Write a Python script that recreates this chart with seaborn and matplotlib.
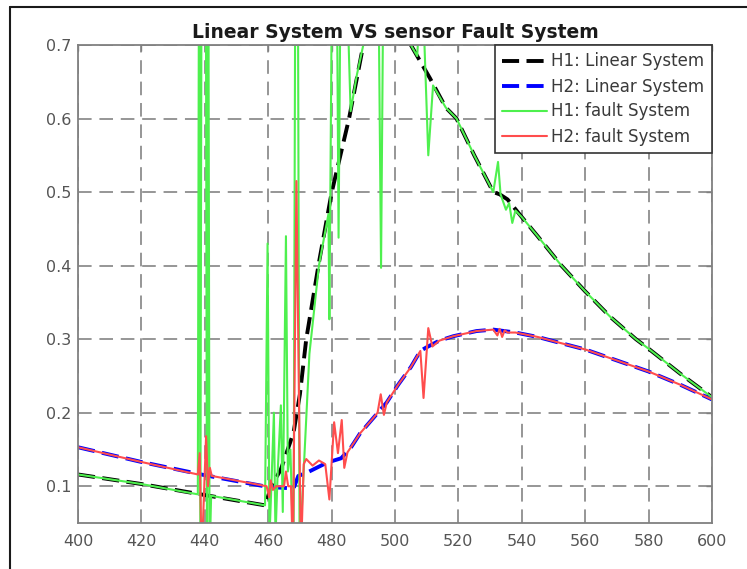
import matplotlib
matplotlib.use("Agg")
import matplotlib.pyplot as plt
from matplotlib.lines import Line2D
import pandas as pd
import seaborn as sns

# ---- data (wavelength vs. response) ----
h1_lin_x = [400, 420, 440, 459, 461, 464, 468, 470, 472, 476, 480, 485.5, 490, 493, 497, 501,
            505, 511, 516, 519.4, 525, 531, 533, 535.5, 540, 545, 552.5, 560, 568, 576, 580, 590, 600]
h1_lin_y = [0.116, 0.103, 0.088, 0.074, 0.100, 0.123, 0.173, 0.225, 0.300, 0.404, 0.499, 0.600,
            0.700, 0.750, 0.780, 0.755, 0.700, 0.655, 0.615, 0.600, 0.550, 0.500, 0.497, 0.490,
            0.466, 0.440, 0.400, 0.365, 0.330, 0.300, 0.287, 0.253, 0.221]

h2_lin_x = [400, 420, 440, 460, 468, 469.5, 472, 478.5, 483, 486, 489, 493, 497.4, 501, 505, 508,
            510, 514, 518.4, 525.7, 531, 538, 545, 552, 560, 570, 580, 590, 600]
h2_lin_y = [0.153, 0.133, 0.115, 0.099, 0.097, 0.114, 0.118, 0.132, 0.138, 0.152, 0.172, 0.192,
            0.214, 0.238, 0.262, 0.284, 0.289, 0.298, 0.304, 0.311, 0.313, 0.309, 0.303, 0.295,
            0.286, 0.271, 0.256, 0.238, 0.218]

h1_fault_x = [400, 420, 437.8, 438.2, 438.6, 439.0, 439.5, 440.3, 440.7, 441.1, 441.5, 442.0,
              459.0, 459.8, 460.4, 461.0, 461.8, 462.3, 463.0, 464.0, 464.6, 465.6, 466.2, 467.0,
              468.0, 468.6, 469.3, 469.9, 470.5, 473, 476, 479.0, 479.3, 480.3, 481.5, 482.2,
              483.0, 484.0, 486.0, 488, 490, 493, 494.8, 495.6, 496.3, 499, 502, 505, 507, 508.5,
              510.5, 512, 516, 519.4, 525, 531, 532.5, 533.3, 535.0, 536.0, 537.0, 538.0, 540,
              545, 552.5, 560, 568, 576, 580, 590, 600]
h1_fault_y = [0.116, 0.103, 0.089, 0.90, 0.00, 0.90, 0.90, 0.90, 0.00, 0.90, 0.00, 0.087,
              0.074, 0.430, 0.030, 0.100, 0.200, 0.030, 0.120, 0.210, 0.065, 0.440, 0.120, 0.150,
              0.000, 0.900, 0.900, 0.000, 0.060, 0.280, 0.400, 0.470, 0.327, 0.900, 0.900, 0.438,
              0.900, 0.900, 0.610, 0.660, 0.700, 0.750, 0.780, 0.397, 0.780, 0.770, 0.750, 0.700,
              0.685, 0.800, 0.550, 0.645, 0.615, 0.600, 0.550, 0.500, 0.541, 0.497, 0.476, 0.485,
              0.458, 0.475, 0.466, 0.440, 0.400, 0.365, 0.330, 0.300, 0.287, 0.253, 0.221]

h2_fault_x = [400, 420, 437.8, 438.4, 439.0, 440.4, 441.0, 441.6, 442.2, 459.5, 460.3, 460.8,
              461.5, 462.5, 465.0, 465.6, 466.3, 467.2, 467.8, 468.9, 470.3, 471.2, 472, 474, 476,
              478, 479.3, 480.8, 482.0, 483.2, 484.0, 485, 489, 493, 494.5, 495.5, 496.5, 497.4,
              501, 505, 508, 509, 510.5, 511.8, 514, 518.4, 525.7, 531, 532.3, 533.0, 533.8,
              534.6, 535.5, 538, 545, 552, 560, 570, 580, 590, 600]
h2_fault_y = [0.153, 0.133, 0.116, 0.145, 0.000, 0.168, 0.100, 0.125, 0.114, 0.100, 0.085, 0.108,
              0.095, 0.100, 0.100, 0.120, 0.100, 0.100, 0.000, 0.515, 0.000, 0.130, 0.137, 0.128,
              0.135, 0.130, 0.082, 0.187, 0.145, 0.190, 0.125, 0.146, 0.172, 0.192, 0.200, 0.225,
              0.197, 0.214, 0.238, 0.262, 0.284, 0.220, 0.315, 0.290, 0.298, 0.304, 0.311, 0.313,
              0.305, 0.314, 0.303, 0.312, 0.309, 0.309, 0.303, 0.295, 0.286, 0.271, 0.256, 0.238,
              0.218]

labels = ["H1: Linear System", "H2: Linear System", "H1: fault System", "H2: fault System"]
x_ticks = [400, 420, 440, 460, 480, 500, 520, 540, 560, 580, 600]
y_ticks = [0.1, 0.2, 0.3, 0.4, 0.5, 0.6, 0.7]

sns.set_theme(style="white")
plt.rcParams["font.family"] = ["DejaVu Sans"]

W, H = 747, 569
fig = plt.figure(figsize=(W / 100, H / 100), dpi=100)
fig.patch.set_facecolor("white")
ax = fig.add_axes([78 / W, 1 - 523 / H, (712 - 78) / W, (523 - 45) / H])
ax.set_facecolor("white")

series = [
    (h1_lin_x, h1_lin_y, "#000000", 2.8, (0, (4.4, 1.9))),
    (h2_lin_x, h2_lin_y, "#0000ff", 2.8, (0, (4.4, 1.9))),
    (h1_fault_x, h1_fault_y, "#4ef04e", 1.5, "-"),
    (h2_fault_x, h2_fault_y, "#ff4d4d", 1.5, "-"),
]
for (xs, ys, col, lw, ls), lab in zip(series, labels):
    df = pd.DataFrame({"x": xs, "y": ys})
    sns.lineplot(data=df, x="x", y="y", ax=ax, color=col, lw=lw, estimator=None,
                 sort=False, label=lab, legend=False)
    ax.lines[-1].set_linestyle(ls)

ax.set_xlim(400, 600)
ax.set_ylim(0.05, 0.7)
ax.set_xticks(x_ticks)
ax.set_yticks(y_ticks)
ax.set_yticklabels([f"{v:.1f}" for v in y_ticks])
ax.set_xlabel("")
ax.set_ylabel("")

ax.set_axisbelow(True)
ax.grid(True, color="#969696", lw=1.4, linestyle=(0, (7, 4)))

for sp in ax.spines.values():
    sp.set_visible(True)
    sp.set_color("#808080")
    sp.set_linewidth(1.3)
ax.tick_params(axis="both", which="both", direction="in", length=4, width=1,
               color="#808080", top=True, right=True, labelsize=11.5,
               labelcolor="#555555")
ax.tick_params(axis="x", pad=8)
ax.tick_params(axis="y", pad=5)

ax.set_title("Linear System VS sensor Fault System", fontsize=13.5, fontweight="bold",
             color="#1a1a1a", pad=5)

handles = ax.lines[:4]
leg = ax.legend(handles, labels, loc="upper right", borderaxespad=0, frameon=True,
                fancybox=False, edgecolor="#333333", framealpha=1, fontsize=12,
                handlelength=2.7, handletextpad=0.25, labelspacing=0.42, borderpad=0.45,
                labelcolor="#3a3a3a")
leg.get_frame().set_linewidth(1.2)

# outer frame lines (top and left)
fig.add_artist(Line2D([10 / W, 1], [1 - 7 / H, 1 - 7 / H], transform=fig.transFigure,
                      color="#1a1a1a", lw=1.5))
fig.add_artist(Line2D([10 / W, 10 / W], [0, 1 - 7 / H], transform=fig.transFigure,
                      color="#1a1a1a", lw=1.5))

fig.savefig("out.png", dpi=100, facecolor="white")
